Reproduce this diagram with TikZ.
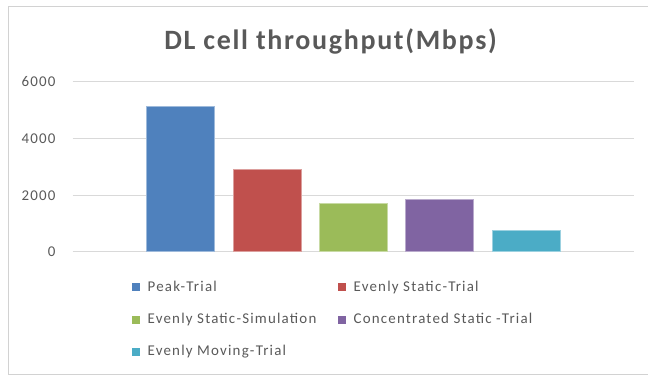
\documentclass[tikz,border=0pt]{standalone}
\usepackage{fontspec}
\setmainfont{Carlito}
\newfontfamily\chartfont[LetterSpace=8]{Carlito}
\newfontfamily\titlefont[LetterSpace=6]{Carlito}
\usetikzlibrary{positioning}
\definecolor{barblue}{RGB}{79,129,189}
\definecolor{barred}{RGB}{192,80,77}
\definecolor{bargreen}{RGB}{155,187,89}
\definecolor{barpurple}{RGB}{128,100,162}
\definecolor{barcyan}{RGB}{75,172,198}
\definecolor{gridgray}{RGB}{217,217,217}
\definecolor{framegray}{RGB}{210,210,210}
\definecolor{textgray}{RGB}{89,89,89}

\begin{document}
\begin{tikzpicture}[x=0.75pt, y=-0.75pt,
    gridline/.style={draw=gridgray, line width=0.75pt},
    ticklabel/.style={font=\chartfont\fontsize{11.2}{13}\selectfont, text=textgray, anchor=base east, inner sep=0pt},
    bar/.style={draw=#1!55!white, fill=#1, line width=0.6pt},
    legsq/.style={fill=#1, minimum size=6pt, inner sep=0pt},
    legtext/.style={font=\chartfont\fontsize{11.2}{13}\selectfont, text=textgray, inner sep=0pt,
        text height=0.62em, text depth=0pt}]
    \useasboundingbox (0,0) rectangle (648,376);

    % Chart frame (open on the right)
    \draw[framegray, line width=0.9pt] (648,6.5) -- (8.5,6.5) -- (8.5,374.5) -- (648,374.5);

    % Title
    \node[font=\titlefont\bfseries\fontsize{21}{25}\selectfont, text=textgray, anchor=base, inner sep=0pt]
        (title) at (330.5,49.3) {DL cell throughput(Mbps)};

    % Gridlines and value axis
    \foreach \v in {0,2000,4000,6000} {
        \draw[gridline] (72.7,{251.7-\v*0.02835}) -- (634,{251.7-\v*0.02835});
        \node[ticklabel] (tick\v) at (55.7,{256.7-\v*0.02835}) {\v};
    }

    % Bars
    \foreach \i/\v/\c in {0/5110/barblue, 1/2900/barred, 2/1710/bargreen, 3/1850/barpurple, 4/740/barcyan} {
        \draw[bar=\c] ({146.7+86.3*\i},251.7) rectangle ({214.7+86.3*\i},{251.7-\v*0.02835});
    }

    % Legend
    \node[legsq=barblue] (sqpeak) at (135.8,287.3) {};
    \node[legtext, right=5.5pt of sqpeak] (legpeak) {Peak-Trial};
    \node[legsq=barred] (sqevst) at (341.8,287.3) {};
    \node[legtext, right=5.5pt of sqevst] (legevst) {Evenly Static-Trial};
    \node[legsq=bargreen] (sqevsim) at (135.8,319.5) {};
    \node[legtext, right=5.5pt of sqevsim] (legevsim) {Evenly Static-Simulation};
    \node[legsq=barpurple] (sqconc) at (341.8,319.5) {};
    \node[legtext, right=5.5pt of sqconc] (legconc) {Concentrated Static -Trial};
    \node[legsq=barcyan] (sqmov) at (135.8,351.5) {};
    \node[legtext, right=5.5pt of sqmov] (legmov) {Evenly Moving-Trial};
\end{tikzpicture}
\end{document}
